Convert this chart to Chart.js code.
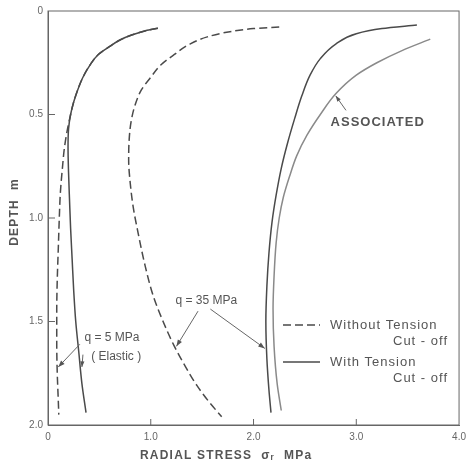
<!DOCTYPE html>
<html>
<head>
<meta charset="utf-8">
<script src="https://cdn.jsdelivr.net/npm/chart.js@4.4.1/dist/chart.umd.min.js"></script>
<style>
  html, body { margin: 0; padding: 0; background: #fff; }
  #wrap { width: 472px; height: 465px; }
</style>
</head>
<body>
<div id="wrap"><canvas id="stressChart" width="472" height="465"></canvas></div>
<script>
// tick labels
const xTicks = [0, 1, 2, 3, 4];
const yTicks = [0, 0.5, 1, 1.5, 2];

// q = 5 MPa, without tension cut-off (dashed)
const depthQ5Free = [0.083, 0.095, 0.115, 0.14, 0.175, 0.21, 0.26, 0.32, 0.38, 0.44, 0.50, 0.57, 0.66, 0.76, 0.88, 1.0, 1.15, 1.3, 1.45, 1.6, 1.75, 1.88, 1.95];
const stressQ5Free = [1.07, 0.95, 0.82, 0.70, 0.59, 0.49, 0.41, 0.34, 0.29, 0.25, 0.22, 0.19, 0.16, 0.14, 0.12, 0.11, 0.10, 0.09, 0.085, 0.085, 0.09, 0.10, 0.105];

// q = 5 MPa, with tension cut-off (solid)
const depthQ5Cut = [0.083, 0.095, 0.115, 0.14, 0.175, 0.21, 0.26, 0.32, 0.38, 0.44, 0.50, 0.57, 0.66, 0.78, 0.92, 1.05, 1.2, 1.35, 1.5, 1.65, 1.8, 1.94];
const stressQ5Cut = [1.07, 0.95, 0.82, 0.70, 0.59, 0.49, 0.41, 0.34, 0.29, 0.25, 0.22, 0.20, 0.195, 0.20, 0.21, 0.22, 0.235, 0.25, 0.27, 0.30, 0.33, 0.37];

// q = 35 MPa, without tension cut-off (dashed)
const depthQ35Free = [0.077, 0.085, 0.10, 0.125, 0.16, 0.21, 0.26, 0.32, 0.38, 0.45, 0.53, 0.62, 0.72, 0.83, 0.95, 1.08, 1.22, 1.37, 1.50, 1.62, 1.72, 1.81, 1.89, 1.96];
const stressQ35Free = [2.25, 2.0, 1.77, 1.55, 1.38, 1.23, 1.10, 1.0, 0.91, 0.85, 0.81, 0.79, 0.785, 0.80, 0.83, 0.88, 0.94, 1.02, 1.12, 1.23, 1.34, 1.45, 1.57, 1.69];

// q = 35 MPa, with tension cut-off (solid)
const depthQ35Cut = [0.068, 0.085, 0.11, 0.16, 0.23, 0.31, 0.41, 0.52, 0.64, 0.76, 0.89, 1.02, 1.17, 1.33, 1.50, 1.68, 1.83, 1.94];
const stressQ35Cut = [3.59, 3.25, 3.0, 2.80, 2.65, 2.55, 2.47, 2.40, 2.33, 2.27, 2.22, 2.18, 2.15, 2.13, 2.12, 2.13, 2.15, 2.17];

// associated flow rule
const depthAssoc = [0.136, 0.19, 0.25, 0.31, 0.40, 0.50, 0.60, 0.70, 0.80, 0.90, 1.0, 1.12, 1.28, 1.44, 1.62, 1.80, 1.93];
const stressAssoc = [3.72, 3.45, 3.2, 3.0, 2.8, 2.65, 2.52, 2.42, 2.35, 2.29, 2.25, 2.22, 2.20, 2.19, 2.20, 2.23, 2.27];

const toPoints = (xs, ys) => xs.map((v, i) => ({ x: v, y: ys[i] }));
const FONT = '"Liberation Sans", Arial, sans-serif';
const INK = '#4a4a4a';

// depth is the independent variable, so the curves are splined along y
const line = (pts, color, dash) => ({
  data: pts,
  showLine: true,
  borderColor: color,
  borderWidth: 1.5,
  borderDash: dash || [],
  pointRadius: 0,
  cubicInterpolationMode: 'monotone',
  fill: false
});

// draws an arrow between two points given in data units
function arrow(ctx, x, y, from, to, head) {
  const x0 = x.getPixelForValue(from[0]), y0 = y.getPixelForValue(from[1]);
  const x1 = x.getPixelForValue(to[0]), y1 = y.getPixelForValue(to[1]);
  ctx.beginPath();
  ctx.moveTo(x0, y0);
  ctx.lineTo(x1, y1);
  ctx.stroke();
  const ang = Math.atan2(y1 - y0, x1 - x0);
  const h = head || 7;
  ctx.beginPath();
  ctx.moveTo(x1, y1);
  ctx.lineTo(x1 - h * Math.cos(ang - 0.35), y1 - h * Math.sin(ang - 0.35));
  ctx.lineTo(x1 - h * Math.cos(ang + 0.35), y1 - h * Math.sin(ang + 0.35));
  ctx.closePath();
  ctx.fill();
}

const decorations = {
  id: 'decorations',
  afterDraw(chart) {
    const { ctx, chartArea: a, scales: { x, y } } = chart;
    ctx.save();
    // frame top + right
    ctx.strokeStyle = '#666';
    ctx.lineWidth = 1;
    ctx.strokeRect(a.left, a.top, a.right - a.left, a.bottom - a.top);

    // inward tick marks
    ctx.beginPath();
    xTicks.slice(1, -1).forEach(v => {
      const px = x.getPixelForValue(v);
      ctx.moveTo(px, a.bottom);
      ctx.lineTo(px, a.bottom - 6);
    });
    yTicks.slice(1, -1).forEach(v => {
      const py = y.getPixelForValue(v);
      ctx.moveTo(a.left, py);
      ctx.lineTo(a.left + 7, py);
    });
    ctx.stroke();

    // axis titles
    ctx.fillStyle = '#555';
    ctx.font = 'bold 12px ' + FONT;
    ctx.letterSpacing = '1.2px';
    ctx.textBaseline = 'middle';
    ctx.textAlign = 'left';
    ctx.fillText('RADIAL STRESS  σ\u1D63  MPa', 140, 456);
    ctx.save();
    ctx.translate(15, 212);
    ctx.rotate(-Math.PI / 2);
    ctx.textAlign = 'center';
    ctx.fillText('DEPTH  m', 0, 0);
    ctx.restore();

    // annotations
    ctx.fillStyle = '#555';
    ctx.strokeStyle = '#666';
    ctx.lineWidth = 1;
    ctx.font = 'bold 13px ' + FONT;
    ctx.letterSpacing = '1px';
    ctx.fillText('ASSOCIATED', x.getPixelForValue(2.75), y.getPixelForValue(0.54));
    arrow(ctx, x, y, [2.90, 0.48], [2.80, 0.41], 6);

    ctx.font = '12px ' + FONT;
    ctx.letterSpacing = '0px';
    ctx.fillText('q = 35 MPa', x.getPixelForValue(1.24), y.getPixelForValue(1.40));
    arrow(ctx, x, y, [1.46, 1.45], [1.25, 1.62]);
    arrow(ctx, x, y, [1.58, 1.44], [2.11, 1.63]);

    ctx.fillText('q = 5 MPa', x.getPixelForValue(0.355), y.getPixelForValue(1.58));
    ctx.fillText('( Elastic )', x.getPixelForValue(0.42), y.getPixelForValue(1.67));
    arrow(ctx, x, y, [0.31, 1.61], [0.10, 1.72]);
    arrow(ctx, x, y, [0.34, 1.66], [0.33, 1.72], 6);

    // legend
    ctx.font = '13px ' + FONT;
    ctx.letterSpacing = '1px';
    ctx.strokeStyle = INK;
    ctx.lineWidth = 1.5;
    ctx.setLineDash([8, 4]);
    ctx.beginPath(); ctx.moveTo(283, 325); ctx.lineTo(320, 325); ctx.stroke();
    ctx.setLineDash([]);
    ctx.beginPath(); ctx.moveTo(283, 362); ctx.lineTo(320, 362); ctx.stroke();
    ctx.fillText('Without Tension', 330, 325);
    ctx.fillText('With Tension', 330, 362);
    ctx.textAlign = 'right';
    ctx.fillText('Cut - off', 448, 341);
    ctx.fillText('Cut - off', 448, 378);
    ctx.restore();
  }
};

const fmt = v => (v === 0 ? '0' : v.toFixed(1));

new Chart(document.getElementById('stressChart'), {
  type: 'scatter',
  data: {
    datasets: [
      line(toPoints(stressQ5Free, depthQ5Free), INK, [8, 4]),
      line(toPoints(stressQ5Cut, depthQ5Cut), INK),
      line(toPoints(stressQ35Free, depthQ35Free), INK, [8, 4]),
      line(toPoints(stressQ35Cut, depthQ35Cut), INK),
      line(toPoints(stressAssoc, depthAssoc), '#8a8a8a')
    ]
  },
  options: {
    indexAxis: 'y',
    responsive: false,
    animation: false,
    layout: { padding: { top: 11, right: 8, left: 0, bottom: 0 } },
    plugins: { legend: { display: false }, tooltip: { enabled: false } },
    scales: {
      x: {
        type: 'linear',
        position: 'bottom',
        min: 0, max: 4,
        afterFit: s => { s.height = 40; },
        afterBuildTicks: s => { s.ticks = xTicks.map(v => ({ value: v })); },
        grid: { display: false, drawTicks: false },
        border: { display: true, color: '#666', width: 1 },
        ticks: { padding: 6, color: '#666', font: { family: FONT, size: 10 }, callback: fmt, maxRotation: 0 }
      },
      y: {
        type: 'linear',
        position: 'left',
        reverse: true,
        min: 0, max: 2,
        afterFit: s => { s.width = 48; },
        afterBuildTicks: s => { s.ticks = yTicks.map(v => ({ value: v })); },
        grid: { display: false, drawTicks: false },
        border: { display: true, color: '#666', width: 1 },
        ticks: { padding: 5, color: '#666', font: { family: FONT, size: 10 }, callback: fmt }
      }
    }
  },
  plugins: [decorations]
});
</script>
</body>
</html>
